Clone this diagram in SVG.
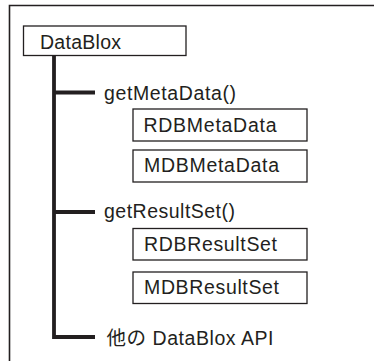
<svg xmlns="http://www.w3.org/2000/svg" width="374" height="361" viewBox="0 0 374 361">
<style>
text{font-family:"Liberation Sans",Arial,"Noto Sans CJK JP",sans-serif;font-size:19.5px;fill:#231f20}
.box{fill:#fff;stroke:#231f20;stroke-width:1.3}
.tree{fill:none;stroke:#231f20;stroke-width:3.8}
.frame{fill:none;stroke:#231f20;stroke-width:1.6}
</style>
<rect width="374" height="361" fill="#fff"/>
<path class="frame" d="M374,5.5 H9.5 V361"/>
<g id="connectors">
<path class="tree" d="M54,55 V339 M54,92.5 H95 M54,212 H95 M52.1,337 H95"/>
</g>
<g id="n-datablox">
<rect class="box" x="23.5" y="26" width="162.5" height="29.5"/>
<text x="40" y="48.5" textLength="81">DataBlox</text>
</g>
<g id="n-getmetadata">
<text x="104" y="99.5" textLength="132">getMetaData()</text>
</g>
<g id="n-rdbmetadata">
<rect class="box" x="133" y="109" width="174" height="32"/>
<text x="143.5" y="132" textLength="133">RDBMetaData</text>
</g>
<g id="n-mdbmetadata">
<rect class="box" x="133" y="150" width="174" height="32"/>
<text x="144" y="171.5" textLength="135">MDBMetaData</text>
</g>
<g id="n-getresultset">
<text x="104" y="217.5" textLength="131">getResultSet()</text>
</g>
<g id="n-rdbresultset">
<rect class="box" x="133" y="228.5" width="174" height="31.5"/>
<text x="144" y="250.5" textLength="133">RDBResultSet</text>
</g>
<g id="n-mdbresultset">
<rect class="box" x="133" y="272" width="174" height="31.5"/>
<text x="144" y="294" textLength="135">MDBResultSet</text>
</g>
<g id="n-other">
<text x="106.5" y="345" textLength="167">他の DataBlox API</text>
</g>
</svg>
